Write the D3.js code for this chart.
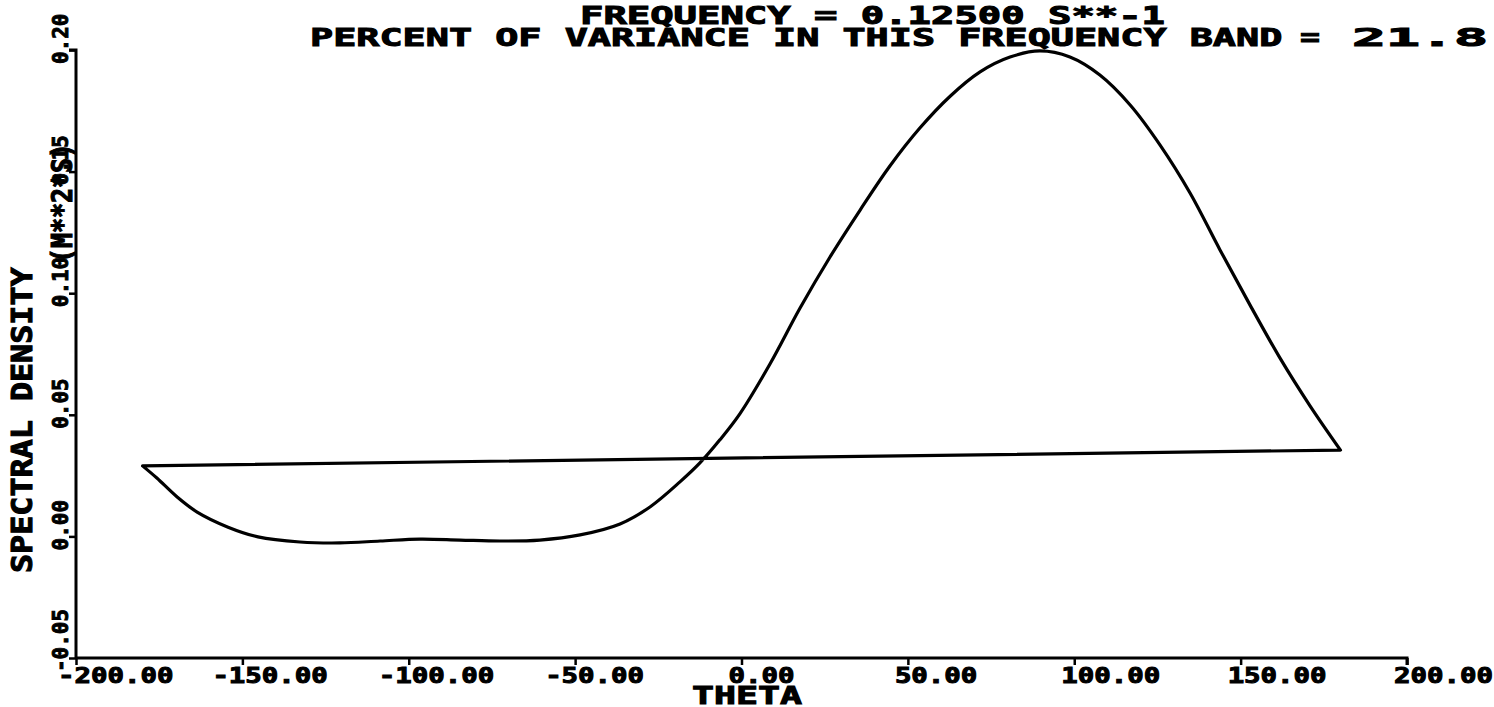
<!DOCTYPE html>
<html><head><meta charset="utf-8">
<script src="https://cdn.jsdelivr.net/npm/d3@7/dist/d3.min.js"></script>
<style>html,body{margin:0;padding:0;background:#fff;overflow:hidden}</style>
</head><body>
<svg id="c" width="1494" height="707"></svg>
<script>
// ---- data ----
const theta = [-180,-175.7,-169.6,-163.6,-154.3,-145.3,-132.7,-120.7,-108.6,-96.6,-84.6,-72.6,-60.6,-48.5,-36.5,-27.5,-18.5,-12.5,-6.5,-0.5,8.6,17.6,26.6,35.6,44.6,53.6,62.7,71.7,80.7,89.7,98.7,107.7,116.8,125.8,134.8,143.8,152.8,161.8,170.9,180];
const density = [0.0290,0.0240,0.0162,0.0100,0.0038,-0.0002,-0.0023,-0.0027,-0.0019,-0.0011,-0.0015,-0.0019,-0.0015,0.0006,0.0051,0.0121,0.0224,0.0302,0.0397,0.0504,0.0710,0.0939,0.1149,0.1341,0.1523,0.1679,0.1810,0.1910,0.1971,0.1996,0.1971,0.1897,0.1774,0.1609,0.1412,0.1178,0.0952,0.0734,0.0536,0.0355];
const xTicks = [-200,-150,-100,-50,0,50,100,150,200];
const xTickLabels = ["-200.00","-150.00","-100.00","-50.00","0.00","50.00","100.00","150.00","200.00"];
const yTicks = [-0.05,0.00,0.05,0.10,0.15,0.20];
const yTickLabels = ["-0.05","0.00","0.05","0.10","0.15","0.20"];
const title1 = "FREQUENCY = 0.12500  S**-1";
const title2 = "PERCENT OF VARIANCE IN THIS FREQUENCY BAND";
const title2eq = "=";
const title2val = "21.8";
const xTitle = "THETA";
const yTitle = "SPECTRAL DENSITY";
const yUnits = "(M**2*S)";

// ---- layout ----
const svg = d3.select("#c");
const x = d3.scaleLinear().domain([-200,200]).range([76,1407]);
const y = d3.scaleLinear().domain([-0.05,0.20]).range([658,50]);
const FONT = "'DejaVu Sans Mono', monospace";

function txt(g, s, px, py, fs, pitch, rot, sw) {
  const t = g.append("text")
    .attr("font-family", FONT).attr("font-weight", "bold")
    .attr("font-size", fs).attr("fill", "#000")
    .attr("stroke", "#000").attr("stroke-width", sw)
    .attr("textLength", s.length * pitch).attr("lengthAdjust", "spacingAndGlyphs")
    .text(s);
  if (rot) t.attr("transform", `translate(${px},${py}) rotate(-90)`);
  else t.attr("x", px).attr("y", py);
  return t;
}

// axes
const xAxis = d3.axisBottom(x).tickValues(xTicks).tickSize(7).tickFormat("");
const yAxis = d3.axisLeft(y).tickValues(yTicks).tickSize(7).tickFormat("");
const gx = svg.append("g").attr("transform", `translate(0,${y(-0.05)})`).call(xAxis);
const gy = svg.append("g").attr("transform", `translate(${x(-200)},0)`).call(yAxis);
[gx, gy].forEach(g => {
  g.select(".domain").attr("stroke", "#000").attr("stroke-width", 3);
  g.selectAll(".tick line").attr("stroke", "#000").attr("stroke-width", 2.5);
});
gx.select(".domain").attr("d", `M${x(-200)},0H${x(200)}V7`);
gy.select(".domain").attr("d", `M0,${y(-0.05)}V${y(0.20)}H-7`);

// tick labels
xTicks.forEach((t, i) => {
  const lab = xTickLabels[i];
  const start = Math.max(58, x(t) - (lab.startsWith("-") ? 30 : 13));
  txt(svg, lab, start, 683, 21, 16.5, false, 1);
});
yTicks.forEach((v, i) => {
  txt(svg, yTickLabels[i], 68, y(v) + 14, 21, 12.6, true, 0.9);
});

// titles
txt(svg, title1, 580, 24, 24, 22.5, false, 1);
txt(svg, title2, 310, 46, 25, 23.15, false, 1);
txt(svg, title2eq, 1300, 46, 25, 20, false, 1);
txt(svg, title2val, 1352, 46, 25, 34, false, 1);
txt(svg, xTitle, 692, 704, 25, 22, false, 1);
txt(svg, yTitle, 32, 573, 29, 19.1, true, 1.1);
txt(svg, yUnits, 72, 263, 28, 15, true, 1.1);

// curve, closed back to its first point by a straight segment
const pts = theta.map((t, i) => [t, density[i]]);
const line = d3.line().x(d => x(d[0])).y(d => y(d[1])).curve(d3.curveCatmullRom.alpha(0.5));
svg.append("path").attr("d", line(pts) + "Z")
  .attr("fill", "none").attr("stroke", "#000").attr("stroke-width", 3.2)
  .attr("stroke-linejoin", "round");
</script>
</body></html>
